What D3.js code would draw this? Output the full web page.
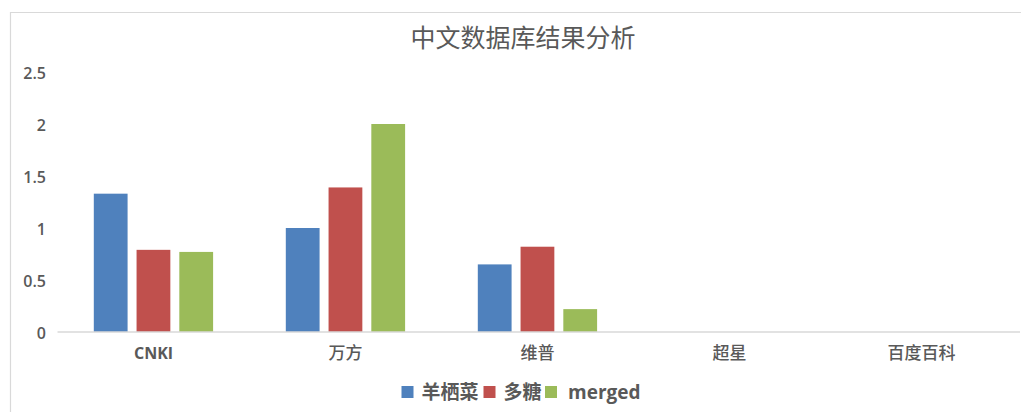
<!DOCTYPE html>
<html><head><meta charset="utf-8">
<script src="https://cdn.jsdelivr.net/npm/d3@7"></script>
<style>
html,body{margin:0;padding:0;background:#fff;}
svg{display:block;}
</style></head>
<body>
<svg id="chart" width="1021" height="412"></svg>
<script>
const title = "中文数据库结果分析";
const categories = ["CNKI", "万方", "维普", "超星", "百度百科"];
const seriesNames = ["羊栖菜", "多糖", "merged"];
const seriesColors = ["#4F81BD", "#C0504D", "#9BBB59"];
const s1 = [1.33, 1.0, 0.65, 0, 0];
const s2 = [0.79, 1.39, 0.82, 0, 0];
const s3 = [0.77, 2.0, 0.22, 0, 0];
const yTicks = [0, 0.5, 1, 1.5, 2, 2.5];
const yTickLabels = ["0", "0.5", "1", "1.5", "2", "2.5"];

const seriesValues = [s1, s2, s3];
const svg = d3.select("#chart");
const textColor = "#595959";
const fontLatin = "'Open Sans','Noto Sans','Noto Sans CJK SC',sans-serif";
const fontCJK = "'Noto Sans CJK SC','Open Sans',sans-serif";

// chart frame lines
svg.append("line").attr("x1",10).attr("x2",1021).attr("y1",12.5).attr("y2",12.5)
  .attr("stroke","#d9d9d9").attr("stroke-width",1.2);
svg.append("line").attr("x1",10.5).attr("x2",10.5).attr("y1",12).attr("y2",412)
  .attr("stroke","#d9d9d9").attr("stroke-width",1.2);

const x0 = d3.scaleBand().domain(categories).range([57.5, 1017.5]).padding(0);
const x1 = d3.scaleBand().domain(seriesNames).range([36.3, 155.6]).paddingInner(0.21).paddingOuter(0);
const y = d3.scaleLinear().domain([0, 2.5]).range([332, 72]);

// title
svg.append("text").attr("x", 523).attr("y", 47).attr("text-anchor","middle")
  .attr("font-family", fontCJK).attr("font-size", 25).attr("fill", textColor)
  .text(title);

// y axis labels
const yAxis = d3.axisLeft(y).tickValues(yTicks).tickFormat((d,i)=>yTickLabels[i]).tickSize(0).tickPadding(0);
const yg = svg.append("g").attr("transform","translate(46,0)").call(yAxis);
yg.select(".domain").remove();
yg.selectAll("text").attr("font-family", fontLatin).attr("font-size", 16).attr("font-weight", 600)
  .attr("fill", textColor).attr("dy","0.4em");

// bars
const groups = svg.append("g").selectAll("g").data(categories).join("g")
  .attr("transform", d => `translate(${x0(d)},0)`);
groups.selectAll("rect")
  .data((c, ci) => seriesNames.map((s, si) => ({s, si, v: seriesValues[si][ci]})))
  .join("rect")
  .attr("x", d => x1(d.s))
  .attr("width", x1.bandwidth())
  .attr("y", d => y(d.v))
  .attr("height", d => y(0) - y(d.v))
  .attr("fill", d => seriesColors[d.si]);

// baseline / x axis
const xAxis = d3.axisBottom(x0).tickSize(0).tickPadding(0);
const xg = svg.append("g").attr("transform", `translate(0,${y(0)})`).call(xAxis);
xg.select(".domain").attr("stroke","#d9d9d9").attr("stroke-width",1.5).attr("d","M57.5,0H1020");
xg.selectAll("text").attr("y", 21).attr("dy","0.35em")
  .attr("font-family", d => /^[A-Za-z]/.test(d) ? fontLatin : fontCJK)
  .attr("font-size", d => /^[A-Za-z]/.test(d) ? 16 : 17).attr("font-weight", d => /^[A-Za-z]/.test(d) ? 700 : 500)
  .attr("fill", textColor);

// legend
const legendX = [401.5, 483.5, 545];
const legend = svg.append("g");
seriesNames.forEach((name, i) => {
  const g = legend.append("g").attr("transform", `translate(${legendX[i]},392)`);
  g.append("rect").attr("x",0).attr("y",-6).attr("width",12).attr("height",12).attr("fill", seriesColors[i]);
  g.append("text").attr("x", i===2 ? 23 : 20).attr("y", 0).attr("dy","0.36em")
    .attr("font-family", /^[A-Za-z]/.test(name) ? fontLatin : fontCJK)
    .attr("font-size", 19).attr("font-weight", 700).attr("fill", textColor).text(name);
});
</script>
</body></html>
